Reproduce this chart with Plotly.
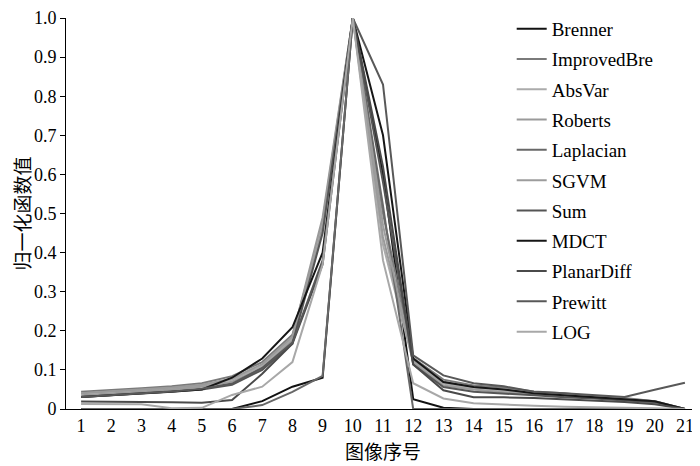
import plotly.graph_objects as go

# image index on the x axis
frames = list(range(1, 21 + 1))

# normalised focus values
brenner = [0, 0, 0, 0, 0, 0, 0.02, 0.057, 0.08, 1, 0.60, 0.025, 0.003, 0, 0, 0, 0, 0, 0, 0, 0]
improved_bre = [0.044, 0.048, 0.053, 0.058, 0.066, 0.084, 0.12, 0.19, 0.47, 1, 0.50, 0.13, 0.075, 0.06, 0.055, 0.045, 0.04, 0.032, 0.028, 0.02, 0]
absvar = [0.04, 0.044, 0.048, 0.053, 0.06, 0.075, 0.11, 0.18, 0.48, 1, 0.42, 0.12, 0.065, 0.05, 0.045, 0.04, 0.035, 0.03, 0.025, 0.018, 0]
roberts = [0.04, 0.045, 0.05, 0.055, 0.062, 0.078, 0.115, 0.185, 0.49, 1, 0.44, 0.125, 0.07, 0.055, 0.05, 0.042, 0.036, 0.03, 0.026, 0.02, 0]
laplacian = [0, 0, 0, 0, 0, 0, 0.01, 0.044, 0.085, 1, 0.52, 0, 0, 0, 0, 0, 0, 0, 0, 0, 0]
sgvm = [0.035, 0.04, 0.045, 0.05, 0.057, 0.07, 0.105, 0.175, 0.46, 1, 0.47, 0.118, 0.06, 0.05, 0.042, 0.038, 0.032, 0.028, 0.024, 0.015, 0]
sum_ = [0.031, 0.035, 0.04, 0.045, 0.05, 0.062, 0.10, 0.167, 0.45, 1, 0.58, 0.114, 0.056, 0.044, 0.04, 0.035, 0.03, 0.027, 0.022, 0.018, 0]
mdct = [0.031, 0.035, 0.039, 0.044, 0.05, 0.08, 0.129, 0.209, 0.40, 1, 0.70, 0.129, 0.069, 0.056, 0.05, 0.04, 0.035, 0.03, 0.025, 0.02, 0]
planar_diff = [0.019, 0.019, 0.018, 0.017, 0.016, 0.023, 0.09, 0.167, 0.37, 1, 0.62, 0.114, 0.048, 0.03, 0.03, 0.028, 0.025, 0.022, 0.018, 0.012, 0]
prewitt = [0.031, 0.036, 0.04, 0.045, 0.052, 0.065, 0.105, 0.17, 0.38, 1, 0.83, 0.137, 0.086, 0.066, 0.058, 0.044, 0.04, 0.036, 0.031, 0.049, 0.067]
log_ = [0.013, 0.013, 0.012, 0.002, 0.003, 0.036, 0.057, 0.12, 0.37, 1, 0.38, 0.066, 0.027, 0.015, 0.011, 0.008, 0.006, 0.004, 0.003, 0.002, 0]

names = ["Brenner", "ImprovedBre", "AbsVar", "Roberts", "Laplacian", "SGVM",
         "Sum", "MDCT", "PlanarDiff", "Prewitt", "LOG"]
series = [brenner, improved_bre, absvar, roberts, laplacian, sgvm,
          sum_, mdct, planar_diff, prewitt, log_]
colors = ["#111111", "#7a7a7a", "#ababab", "#9a9a9a", "#686868", "#9c9c9c",
          "#555555", "#161616", "#4a4a4a", "#585858", "#a8a8a8"]

y_ticks = [i / 10 for i in range(11)]
y_labels = ["0", "0.1", "0.2", "0.3", "0.4", "0.5", "0.6", "0.7", "0.8", "0.9", "1.0"]

fig = go.Figure()
for name, vals, c in zip(names, series, colors):
    fig.add_trace(go.Scatter(x=frames, y=vals, name=name, mode="lines",
                             legendgroup=name,
                             line=dict(color=c, width=2)))

# page body has an 8px margin, so the figure is 692x458
fig.update_layout(
    width=692, height=458,
    margin=dict(l=58, r=0, t=7, b=57),
    plot_bgcolor="white", paper_bgcolor="white",
    font=dict(family="Liberation Serif", size=18, color="black"),
    legend=dict(x=0.703, y=1.021, xanchor="left", yanchor="top",
                bgcolor="rgba(0,0,0,0)", tracegroupgap=2.6, maxheight=440,
                font=dict(family="Liberation Serif", size=19)),
)
fig.update_xaxes(range=[0.5, 21.5], tickvals=frames, showline=True,
                 linecolor="black", linewidth=1, ticks="", showgrid=False,
                 zeroline=False, ticklabeloverflow="allow",
                 title=dict(text="图像序号", standoff=11,
                            font=dict(family="Noto Sans CJK SC", size=19)))
fig.update_yaxes(range=[0, 1], tickvals=y_ticks, ticktext=y_labels,
                 showline=True, linecolor="black", linewidth=1,
                 ticks="outside", ticklen=5, tickcolor="black",
                 showgrid=False, zeroline=False, ticklabeloverflow="allow",
                 title=dict(text="归一化函数值", standoff=4,
                            font=dict(family="Noto Sans CJK SC", size=19)))

fig.write_html("out.html")
